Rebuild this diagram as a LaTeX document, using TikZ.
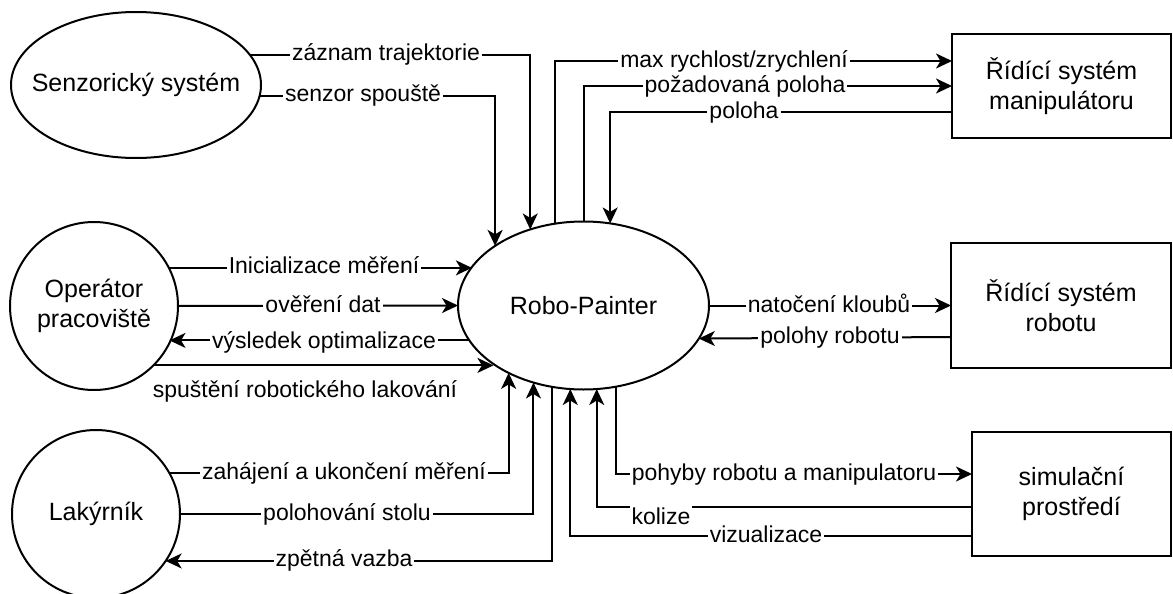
\documentclass[tikz,border=0pt]{standalone}
\usepackage{fontspec}
\setmainfont{Liberation Sans}
\usetikzlibrary{arrows.meta,calc,shapes.geometric}

\begin{document}
\begin{tikzpicture}[x=1pt,y=-1pt,
  line width=2pt,
  arr/.style={-{Stealth[length=16pt,width=15pt,inset=4.5pt]}},
  nodefont/.style={font=\fontsize{25}{30}\selectfont},
  entity/.style={draw, ellipse, inner sep=0pt, outer sep=0pt, align=center, nodefont},
  roundentity/.style={draw, circle, inner sep=0pt, outer sep=0pt, align=center, nodefont},
  sysbox/.style={draw, rectangle, inner sep=0pt, outer sep=0pt, align=center, nodefont},
  lbl/.style={fill=white, inner xsep=2pt, inner ysep=1pt, text height=17pt, text depth=4pt,
              font=\fontsize{23}{27}\selectfont},
]
\useasboundingbox (0,0) rectangle (1173,594);

% --- entities and systems
\node[draw, ellipse, inner sep=0pt, outer sep=0pt, nodefont,
      minimum width=250pt, minimum height=146pt] (sen) at (136,85)
      {\makebox[0pt]{Senzorický systém}};
\node[entity, minimum width=251pt, minimum height=168pt] (rp) at (583.5,305.5) {Robo-Painter};
\node[roundentity, minimum size=168pt] (op) at (94,306) {Operátor\\pracoviště};
\node[roundentity, minimum size=168pt] (lak) at (96,514) {Lakýrník};
\node[sysbox, minimum width=219pt, minimum height=104pt] (man) at (1061.5,86) {Řídící systém\\manipulátoru};
\node[sysbox, minimum width=220pt, minimum height=125pt] (rob) at (1061,305.5) {Řídící systém\\robotu};
\node[sysbox, minimum width=199pt, minimum height=124pt] (sim) at (1071.5,494) {simulační\\prostředí};

% --- sensor system
\draw[arr] (sen.15.3) -| (rp.125.8);
\draw[arr] (sen.355.4) -| (rp.146);

% --- manipulator control system
\draw[arr] (rp.109.2) |- ($(man.west)+(0,-25)$);
\draw[arr] (rp.north) |- (man.west);
\draw[arr] ($(man.west)+(0,26)$) -| (rp.72.1);

% --- workplace operator
\draw[arr] (op.27.7) -- (op.27.7 -| rp.161);
\draw[arr] (op.east) -- (rp.west);
\draw[arr] (rp.197.9) -- (rp.197.9 -| op.334.6);
\draw[arr] (op.315.4) -- (op.315.4 -| rp.213.9);

% --- robot control system
\draw[arr] (rp.east) -- (rob.west);
\draw[arr] ($(rob.west)+(0,31.5)$) -- (rp.344.8);

% --- painter
\draw[arr] (lak.29.2) -| (rp.222.2);
\draw[arr] (lak.east) -| (rp.237.3);
\draw[arr] (rp.249.5) |- (lak.326.8);

% --- simulation environment
\draw[arr] (rp.292.5) |- ($(sim.west)+(0,-20)$);
\draw[arr] ($(sim.west)+(0,13)$) -| (rp.279.2);
\draw[arr] ($(sim.west)+(0,42)$) -| (rp.261.5);

% --- flow labels
\node[lbl] (t1) at (386,54) {záznam trajektorie};
\node[lbl] (t2) at (363,95) {senzor spouště};
\node[lbl] (t3) at (734,61) {max rychlost/zrychlení};
\node[lbl] (t4) at (745,86) {požadovaná poloha};
\node[lbl] (t5) at (744,112) {poloha};
\node[lbl] (t6) at (324,267) {Inicializace měření};
\node[lbl] (t7) at (323,306) {ověření dat};
\node[lbl] (t8) at (324,342) {výsledek optimalizace};
\node[lbl] (t9) at (305,391) {spuštění robotického lakování};
\node[lbl] (t10) at (344,473) {zahájení a ukončení měření};
\node[lbl] (t11) at (347,514) {polohování stolu};
\node[lbl] (t12) at (344,560) {zpětná vazba};
\node[lbl] (t13) at (829,306) {natočení kloubů};
\node[lbl] (t14) at (830,337) {polohy robotu};
\node[lbl] (t15) at (784,474) {pohyby robotu a manipulatoru};
\node[lbl, inner ysep=3pt] (t16) at (661,518) {kolize};
\node[lbl] (t17) at (766,536) {vizualizace};
\end{tikzpicture}
\end{document}
